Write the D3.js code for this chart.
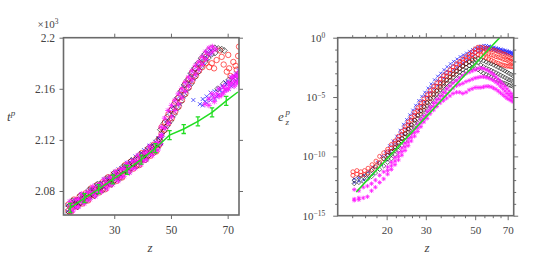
<!DOCTYPE html>
<html><head><meta charset="utf-8">
<script src="https://cdn.jsdelivr.net/npm/d3@7"></script>
<style>
body{margin:0;background:#fff}
svg{display:block}
svg text{font-family:"Liberation Serif","DejaVu Serif",serif !important;fill:#444}
</style>
</head><body><svg id="c" width="547" height="270" font-family="Liberation Serif"></svg>
<script>
// Rows are [z, value, value, ...]: several read-off values at (about) the same z.
// ---------------- data : left panel (z, t^p in units of 10^3) ----------------
const leftXTicks = [30, 50, 70];
const leftYTicks = [2.08, 2.12, 2.16, 2.2];
const leftYLabels = ["2.08", "2.12", "2.16", "2.2"];

const leftGreenZ = [13.8, 14.5, 19.5, 24.5, 29.5, 34.5, 39.5, 44.5, 49.5, 54.5, 59.5, 64.5, 69.5, 73.6];
const leftGreenT = [2.0655, 2.0668, 2.0745, 2.0815, 2.0890, 2.0965, 2.1045, 2.1135, 2.1237, 2.1285, 2.1345, 2.1415, 2.1505, 2.1575];
const leftGreenErr = [0, 0.0035, 0.0035, 0.0035, 0.0035, 0.0035, 0.0035, 0.0035, 0.0035, 0.0035, 0.0035, 0.0035, 0.0035, 0];

const leftBlue = [
[13.5,2.0690,2.0640],[14.5,2.0690,2.0635],[15.5,2.0720,2.0680],[16.5,2.0725,2.0670],[17.5,2.0735,2.0700],[18.5,2.0765,2.0705],[19.5,2.0770,2.0725],[20.5,2.0790,2.0740],[21.5,2.0810,2.0750],[22.5,2.0815,2.0770],[23.5,2.0845,2.0785],[24.5,2.0850,2.0800],[25.5,2.0860,2.0815],[26.5,2.0890,2.0830],[27.5,2.0895,2.0850],[28.5,2.0915,2.0865],[29.5,2.0935,2.0870],[30.5,2.0940,2.0895],[31.5,2.0970,2.0905],[32.5,2.0980,2.0925],[33.5,2.0990,2.0945],[34.5,2.1020,2.0955],[35.5,2.1025,2.0980],[36.5,2.1045,2.0990],[37.5,2.1070,2.1005],[38.5,2.1075,2.1030],[39.5,2.1095,2.1040],[40.5,2.1120,2.1055],[41.5,2.1125,2.1080],[42.5,2.1155,2.1090],[43.5,2.1165,2.1115],[44.5,2.1185,2.1135],[45.5,2.1215,2.1150],[46.5,2.1230,2.1175],
[47.2,2.1290,2.1240],[48.4,2.1350,2.1300],[49.6,2.1420,2.1340],[50.8,2.1460,2.1390],[52.0,2.1520,2.1440],[53.2,2.1570,2.1480],[54.4,2.1620,2.1540],[55.6,2.1660,2.1580],[56.8,2.1710,2.1640],[58.0,2.1750,2.1680],[59.2,2.1790,2.1720],[60.4,2.1820,2.1760],[61.6,2.1860,2.1800],[62.8,2.1890,2.1840],[64.0,2.1900,2.1870],
[57.9,2.1512],[60.2,2.1480],[61.2,2.1470,2.1520],[62.0,2.1500],[62.6,2.1540,2.1490],[63.2,2.1525],[64.0,2.1570,2.1510],[64.6,2.1548],[65.4,2.1580,2.1520],[66.1,2.1540],[66.8,2.1600,2.1555],[67.2,2.1590],[68.0,2.1620,2.1570],[68.5,2.1610],[69.2,2.1650,2.1590],[69.6,2.1632],[70.3,2.1660,2.1600],[70.8,2.1643],[71.3,2.1690,2.1620],[71.7,2.1672],[72.2,2.1700,2.1640],[72.6,2.1695],[73.0,2.1720,2.1660],[73.5,2.1710],[73.9,2.1745,2.1680]
];
const leftRed = [
[13.8,2.0694,2.0644],[14.8,2.0689,2.0639],[15.8,2.0733,2.0683],[16.8,2.0728,2.0678],[17.8,2.0757,2.0707],[18.8,2.0742,2.0702],[19.8,2.0781,2.0731],[20.8,2.0776,2.0726],[21.8,2.0820,2.0770],[22.8,2.0815,2.0765],[23.8,2.0844,2.0794],[24.8,2.0829,2.0789],[25.8,2.0868,2.0818],[26.8,2.0863,2.0813],[27.8,2.0907,2.0857],[28.8,2.0902,2.0852],[29.8,2.0933,2.0883],[30.8,2.0919,2.0879],[31.8,2.0960,2.0910],[32.8,2.0956,2.0906],[33.8,2.1002,2.0952],[34.8,2.0998,2.0948],[35.8,2.1029,2.0979],[36.8,2.1015,2.0975],[37.8,2.1056,2.1006],[38.8,2.1052,2.1002],[39.8,2.1098,2.1048],[40.8,2.1094,2.1044],[41.8,2.1127,2.1077],[42.8,2.1116,2.1076],[43.8,2.1160,2.1110],[44.8,2.1159,2.1109],[45.8,2.1208,2.1158],
[46.7,2.1300,2.1250],[47.9,2.1340,2.1280],[49.1,2.1400,2.1330],[50.3,2.1440,2.1370],[51.5,2.1500,2.1420],[52.7,2.1530,2.1460],[53.9,2.1590,2.1510],[55.1,2.1640,2.1560],[56.3,2.1680,2.1610],[57.5,2.1730,2.1660],[58.7,2.1760,2.1700],[59.9,2.1790,2.1740],[61.1,2.1830,2.1770],[62.3,2.1800,2.1850],
[63.5,2.1770],[64.4,2.1800],[65.2,2.1760],[66.1,2.1825],[67.3,2.1900],[67.9,2.1850],[68.6,2.1790],[69.7,2.1734],[70.2,2.1865],[70.5,2.1760],[71.0,2.1700],[72.0,2.1810],[72.8,2.1780],[73.7,2.1857],[74.0,2.1930],[73.2,2.1750]
];
const leftBlack = [
[14.1,2.0684,2.0634],[15.1,2.0723,2.0663],[16.1,2.0723,2.0693],[17.1,2.0727,2.0677],[18.1,2.0767,2.0707],[19.1,2.0766,2.0736],[20.1,2.0771,2.0721],[21.1,2.0810,2.0750],[22.1,2.0810,2.0780],[23.1,2.0814,2.0764],[24.1,2.0854,2.0794],[25.1,2.0853,2.0823],[26.1,2.0858,2.0808],[27.1,2.0897,2.0837],[28.1,2.0897,2.0867],[29.1,2.0902,2.0852],[30.1,2.0943,2.0883],[31.1,2.0944,2.0914],[32.1,2.0950,2.0900],[33.1,2.0991,2.0931],[34.1,2.0992,2.0962],[35.1,2.0998,2.0948],[36.1,2.1039,2.0979],[37.1,2.1040,2.1010],[38.1,2.1046,2.0996],[39.1,2.1087,2.1027],[40.1,2.1088,2.1058],[41.1,2.1094,2.1044],[42.1,2.1138,2.1078],[43.1,2.1142,2.1112],[44.1,2.1151,2.1101],[45.1,2.1195,2.1135],[46.1,2.1199,2.1169],
[46.3,2.1280,2.1220],[47.5,2.1330,2.1270],[48.7,2.1380,2.1310],[49.9,2.1430,2.1350],[51.1,2.1480,2.1400],[52.3,2.1530,2.1450],[53.5,2.1580,2.1500],[54.7,2.1630,2.1550],[55.9,2.1670,2.1600],[57.1,2.1720,2.1640],[58.3,2.1760,2.1690],[59.5,2.1800,2.1730],[60.7,2.1840,2.1770],[61.9,2.1870,2.1810],[63.1,2.1900,2.1840],[64.3,2.1920,2.1870],[65.5,2.1920,2.1880],[66.7,2.1915],[67.9,2.1910],[68.8,2.1900],
[66.5,2.1600],[68.6,2.1640],[70.4,2.1670],[72.1,2.1660],[73.4,2.1700]
];
const leftMagenta = [
[14.4,2.0718,2.0663],[15.4,2.0693,2.0643],[16.4,2.0732,2.0672],[17.4,2.0737,2.0677],[18.4,2.0776,2.0721],[19.4,2.0751,2.0701],[20.4,2.0790,2.0730],[21.4,2.0795,2.0735],[22.4,2.0834,2.0779],[23.4,2.0809,2.0759],[24.4,2.0848,2.0788],[25.4,2.0853,2.0793],[26.4,2.0892,2.0837],[27.4,2.0867,2.0817],[28.4,2.0906,2.0846],[29.4,2.0911,2.0851],[30.4,2.0952,2.0897],[31.4,2.0928,2.0878],[32.4,2.0969,2.0909],[33.4,2.0975,2.0915],[34.4,2.1016,2.0961],[35.4,2.0992,2.0942],[36.4,2.1033,2.0973],[37.4,2.1039,2.0979],[38.4,2.1080,2.1025],[39.4,2.1056,2.1006],[40.4,2.1097,2.1037],[41.4,2.1105,2.1045],[42.4,2.1149,2.1094],[43.4,2.1128,2.1078],[44.4,2.1172,2.1112],[45.4,2.1181,2.1121],[46.4,2.1225,2.1170],
[46.6,2.1300,2.1240],[47.8,2.1370,2.1290],[49.0,2.1430,2.1330],[50.2,2.1470,2.1380],[51.4,2.1510,2.1430],[52.6,2.1560,2.1480],[53.8,2.1600,2.1530],[55.0,2.1650,2.1580],[56.2,2.1690,2.1620],[57.4,2.1740,2.1670],[58.6,2.1780,2.1710],[59.8,2.1810,2.1750],[61.0,2.1850,2.1790],[62.2,2.1890,2.1830],[63.4,2.1920,2.1870],[64.6,2.1930,2.1890],[65.8,2.1910],
[62.0,2.1480],[63.4,2.1520,2.1470],[64.5,2.1560],[65.3,2.1530,2.1500],[66.2,2.1560],[67.0,2.1600,2.1540],[67.9,2.1551],[68.6,2.1620,2.1570],[69.0,2.1600],[69.7,2.1590],[70.3,2.1650,2.1600],[70.6,2.1625],[71.4,2.1643,2.1690],[71.8,2.1690],[72.3,2.1660,2.1620],[72.9,2.1710],[73.2,2.1695,2.1640],[73.6,2.1660],[74.0,2.1734,2.1700]
];

// ---------------- data : right panel (z, log10 e_z^p) ----------------
const rightXTicks = [14,16,18,20,22,24,26,28,30,35,40,45,50,55,60,65,70];
const rightXLabeled = [20, 30, 50, 70];
const rightYTicks = [0,-1,-2,-3,-4,-5,-6,-7,-8,-9,-10,-11,-12,-13,-14,-15];
const rightYLabeled = [0, -5, -10, -15];

const rightGreenZ = [14.6, 20, 30, 40, 50, 60, 64.4];
const rightGreenE = [-13, -10.24, -6.69, -4.17, -2.22, -0.62, 0];

const rightBlue = [
[14.3,-11.9,-12.2],[15.0,-11.8,-12.1],[15.8,-11.6,-12.0],[16.6,-11.3,-11.8],[17.4,-10.9,-11.5],[18.2,-10.5,-11.1],[19.0,-10.0,-10.7],[19.8,-9.6,-10.3,-9.9],[20.6,-9.1,-9.8,-9.5],[21.4,-8.7,-9.4,-9.0],[22.2,-8.3,-9.0,-8.6],[23.0,-7.8,-8.5,-8.1],[23.8,-7.3,-8.1,-7.6],[24.6,-6.9,-7.7,-7.2],[25.4,-6.5,-7.3,-6.8],[26.2,-6.1,-6.9,-6.4],[27.0,-5.7,-6.5,-6.0],[27.9,-5.3,-6.1,-5.6],[28.8,-4.95,-5.7,-5.3],[29.7,-4.6,-5.4,-4.9],[30.7,-4.25,-5.0,-4.6],[31.7,-3.9,-4.6,-4.2],[32.8,-3.55,-4.3,-3.9],[33.9,-3.25,-4.0,-3.6],[35.0,-3.0,-3.7,-3.3],[36.2,-2.7,-3.4,-3.0],[37.4,-2.45,-3.1,-2.8],[38.7,-2.2,-2.9,-2.5],[40.0,-2.0,-2.7,-2.3],[41.4,-1.8,-2.5,-2.1],[42.8,-1.6,-2.3,-1.9],[44.2,-1.45,-2.1,-1.7],[45.7,-1.3,-1.9,-1.55],[47.2,-1.15,-1.7,-1.4],[48.7,-1.0,-1.55,-1.25],[50.2,-0.88,-1.4,-1.1],[51.7,-0.78,-1.2,-0.95],[53.2,-0.7,-1.1,-0.9],[54.7,-0.65,-1.0,-0.85],[56.2,-0.66,-0.95,-0.8],[57.7,-0.7,-0.95,-0.82],[59.2,-0.74,-1.0,-0.86],[60.7,-0.8,-1.05,-0.9],[62.2,-0.85,-1.1,-0.95],[63.7,-0.9,-1.15,-1.0],[65.2,-0.95,-1.2,-1.05],[66.7,-1.0,-1.25,-1.1],[68.2,-1.05,-1.3,-1.15],[69.7,-1.1,-1.35,-1.2],[71.2,-1.15,-1.4,-1.25],[72.7,-1.2,-1.45,-1.3],[74.0,-1.25,-1.5,-1.35]
];
const rightRed = [
[14.1,-11.3,-11.6],[14.7,-11.2,-11.5],[15.3,-11.3,-11.6],[15.9,-11.2,-11.55],[16.5,-11.0,-11.4],[17.2,-10.7,-11.1],[17.9,-10.4,-10.8],[18.6,-10.0,-10.5],[19.4,-9.7,-10.2],[20.2,-9.4,-9.9,-9.6],[21.0,-9.0,-9.6,-9.3],[21.8,-8.7,-9.3,-8.9],[22.6,-8.3,-8.9,-8.55],[23.4,-7.9,-8.5,-8.15],[24.2,-7.5,-8.1,-7.75],[25.0,-7.1,-7.7,-7.35],[25.8,-6.7,-7.35,-6.95],[26.7,-6.3,-6.95,-6.55],[27.6,-5.9,-6.55,-6.15],[28.5,-5.5,-6.2,-5.8],[29.4,-5.15,-5.85,-5.45],[30.4,-4.8,-5.5,-5.1],[31.4,-4.45,-5.15,-4.75],[32.5,-4.1,-4.8,-4.4],[33.6,-3.8,-4.5,-4.1],[34.8,-3.5,-4.2,-3.8],[36.0,-3.2,-3.9,-3.5],[37.2,-2.95,-3.6,-3.25],[38.5,-2.7,-3.35,-3.0],[39.8,-2.45,-3.1,-2.75],[41.2,-2.2,-2.85,-2.5],[42.6,-2.0,-2.6,-2.25],[44.0,-1.8,-2.4,-2.05],[45.5,-1.6,-2.2,-1.85],[47.0,-1.4,-2.0,-1.65],[48.5,-1.2,-1.8,-1.45],[50.0,-0.95,-1.6,-1.25],[51.5,-0.8,-1.45,-1.1],[53.0,-0.8,-1.5,-1.1],[54.5,-0.85,-1.6,-1.2],[56.0,-0.9,-1.7,-1.3],[57.5,-0.95,-1.8,-1.35],[59.0,-1.0,-1.9,-1.45],[60.5,-1.05,-2.0,-1.5],[62.0,-1.1,-2.1,-1.6],[63.5,-1.2,-2.15,-1.65],[65.0,-1.25,-2.25,-1.7],[66.5,-1.35,-2.3,-1.8],[68.0,-1.4,-2.35,-1.85],[69.5,-1.5,-2.4,-1.9],[71.0,-1.6,-2.4,-2.0],[72.5,-1.7,-2.45,-2.05],[74.0,-1.75,-2.45,-2.1]
];
const rightBlack = [
[14.3,-12.0,-12.3],[15.0,-11.8,-12.2],[15.7,-11.7,-12.1],[16.4,-11.5,-11.9],[17.1,-11.2,-11.7],[17.8,-10.9,-11.4],[18.6,-10.6,-11.1],[19.4,-10.2,-10.8],[20.2,-9.9,-10.5,-10.2],[21.0,-9.6,-10.2,-9.85],[21.8,-9.2,-9.85,-9.5],[22.6,-8.85,-9.5,-9.15],[23.4,-8.5,-9.1,-8.75],[24.2,-8.1,-8.7,-8.35],[25.0,-7.7,-8.35,-7.95],[25.8,-7.35,-8.0,-7.6],[26.7,-6.95,-7.6,-7.2],[27.6,-6.55,-7.2,-6.8],[28.5,-6.15,-6.85,-6.45],[29.4,-5.8,-6.5,-6.1],[30.4,-5.45,-6.15,-5.75],[31.4,-5.1,-5.8,-5.4],[32.5,-4.75,-5.45,-5.05],[33.6,-4.45,-5.1,-4.75],[34.8,-4.1,-4.8,-4.4],[36.0,-3.8,-4.5,-4.1],[37.2,-3.55,-4.2,-3.85],[38.5,-3.3,-3.95,-3.6],[39.8,-3.05,-3.7,-3.35],[41.2,-2.8,-3.45,-3.1],[42.6,-2.6,-3.2,-2.9],[44.0,-2.4,-3.0,-2.7],[45.5,-2.2,-2.8,-2.5],[47.0,-2.05,-2.65,-2.35],[48.5,-1.9,-2.55,-2.2],[50.0,-1.8,-2.6,-2.15],[51.5,-1.75,-2.7,-2.1],[53.0,-1.85,-2.85,-2.3],[54.5,-1.95,-3.0,-2.45],[56.0,-2.05,-3.1,-2.55],[57.5,-2.15,-3.2,-2.65],[59.0,-2.2,-3.3,-2.75],[60.5,-2.3,-3.4,-2.85],[62.0,-2.4,-3.5,-2.95],[63.5,-2.5,-3.6,-3.05],[65.0,-2.6,-3.7,-3.15],[66.5,-2.7,-3.8,-3.25],[68.0,-2.8,-3.85,-3.35],[69.5,-2.9,-3.9,-3.45],[71.0,-3.0,-4.0,-3.55],[72.5,-3.1,-4.05,-3.6],[74.0,-3.2,-4.1,-3.7]
];
const rightMagenta = [
[14.3,-13.7,-12.8,-13.6],[15.0,-13.65,-12.9,-13.5],[15.7,-13.5,-12.6],[16.4,-13.4,-12.5],[17.1,-12.9,-12.3],[17.8,-12.6,-12.0],[18.6,-12.2,-11.6],[19.4,-11.9,-11.3],[20.2,-11.5,-10.9,-11.2],[21.0,-11.1,-10.5,-10.8],[21.8,-10.7,-10.1,-10.4],[22.6,-10.3,-9.7,-10.0],[23.4,-9.9,-9.3,-9.6],[24.2,-9.5,-8.9,-9.2],[25.0,-9.1,-8.5,-8.8],[25.8,-8.7,-8.1,-8.4],[26.7,-8.3,-7.7,-8.0],[27.6,-7.9,-7.3,-7.6],[28.5,-7.5,-6.9,-7.2],[29.4,-7.1,-6.6,-6.85],[30.4,-6.8,-6.2,-6.5],[31.4,-6.4,-5.85,-6.1],[32.5,-6.1,-5.5,-5.8],[33.6,-5.8,-5.2,-5.5],[34.8,-5.5,-4.9,-5.2],[36.0,-5.3,-4.6,-4.95],[37.2,-5.1,-4.3,-4.7],[38.5,-4.9,-4.05,-4.45],[39.8,-4.7,-3.8,-4.25],[41.2,-4.6,-3.6,-4.05],[42.6,-4.6,-3.4,-3.95],[44.0,-4.7,-3.2,-3.85],[45.5,-4.6,-3.0,-3.7],[47.0,-4.4,-2.9,-3.6],[48.5,-4.3,-2.8,-3.5],[50.0,-4.2,-2.7,-3.4],[51.5,-4.2,-2.6,-3.35],[53.0,-4.2,-2.55,-3.3],[54.5,-4.15,-2.6,-3.3],[56.0,-4.1,-2.7,-3.35],[57.5,-4.1,-2.8,-3.4],[59.0,-4.15,-2.95,-3.5],[60.5,-4.25,-3.1,-3.6],[62.0,-4.35,-3.3,-3.75],[63.5,-4.5,-3.5,-3.9],[65.0,-4.65,-3.7,-4.1],[66.5,-4.8,-3.9,-4.3],[68.0,-4.95,-4.1,-4.5],[69.5,-5.1,-4.3,-4.7],[71.0,-5.2,-4.5,-4.85],[72.5,-5.3,-4.7,-5.0],[74.0,-5.4,-4.9,-5.1]
];

// ---------------- drawing ----------------
const svg = d3.select('#c');
const AX = '#6a6a6a';
const FONT = '"Liberation Serif", "DejaVu Serif", serif';
const COL = {blue:'#1a1aff', red:'#ff1a1a', black:'#111', magenta:'#ff1aff', green:'#22dd22'};
const rows = r => r.flatMap(row => row.slice(1).map(v => [row[0], v]));

function markerPath(kind, s){
  if (kind==='x') return `M${-s},${-s}L${s},${s}M${-s},${s}L${s},${-s}`;
  if (kind==='d') return `M0,${-s}L${s},0L0,${s}L${-s},0Z`;
  if (kind==='o') return `M${s},0A${s},${s} 0 1,1 ${-s},0A${s},${s} 0 1,1 ${s},0Z`;
  const a = s*0.72;
  return `M${-s},0H${s}M0,${-s}V${s}M${-a},${-a}L${a},${a}M${-a},${a}L${a},${-a}`;
}
function scatter(g, data, x, y, kind, color, s, sw){
  g.append('g').selectAll('path').data(rows(data)).join('path')
    .attr('transform', d=>`translate(${x(d[0])},${y(d[1])})`)
    .attr('d', markerPath(kind, s))
    .attr('fill','none').attr('stroke', color).attr('stroke-width', sw);
}
function styleAxis(g){
  g.attr('font-family', FONT);
  g.select('.domain').remove();
  g.selectAll('.tick line').attr('stroke', AX).attr('stroke-width', 1);
  g.selectAll('.tick text').attr('fill', '#444').attr('font-family', FONT);
}

// ---- left panel
const L = {x0:63.5, x1:239, y0:37.7, y1:215};
const xL = d3.scaleLinear().domain([12.1, 74]).range([L.x0, L.x1]);
const yL = d3.scaleLinear().domain([2.0612, 2.2]).range([L.y1, L.y0]);
const gL = svg.append('g');
svg.append('clipPath').attr('id','clipL').append('rect')
  .attr('x',L.x0).attr('y',L.y0).attr('width',L.x1-L.x0).attr('height',L.y1-L.y0);

gL.append('g').attr('transform',`translate(0,${L.y1})`)
  .call(d3.axisBottom(xL).tickValues(leftXTicks).tickSize(4).tickPadding(7).tickFormat(d3.format('d')))
  .call(styleAxis).attr('font-size',11.5);
gL.append('g').attr('transform',`translate(0,${L.y0})`)
  .call(d3.axisTop(xL).tickValues(leftXTicks).tickSize(4).tickFormat('')).call(styleAxis);
gL.append('g').attr('transform',`translate(${L.x0},0)`)
  .call(d3.axisLeft(yL).tickValues(leftYTicks).tickSize(4).tickPadding(4.5).tickFormat((d,i)=>leftYLabels[i]))
  .call(styleAxis).attr('font-size',11.5);
gL.append('g').attr('transform',`translate(${L.x1},0)`)
  .call(d3.axisRight(yL).tickValues(leftYTicks).tickSize(4).tickFormat('')).call(styleAxis);

const dL = gL.append('g').attr('clip-path','url(#clipL)');
scatter(dL, leftBlue, xL, yL, 'x', COL.blue, 2.0, 0.7);
scatter(dL, leftRed, xL, yL, 'o', COL.red, 2.7, 0.7);
scatter(dL, leftBlack, xL, yL, 'd', COL.black, 3.0, 0.6);
scatter(dL, leftMagenta, xL, yL, '*', COL.magenta, 2.9, 0.8);

const gLine = leftGreenZ.map((z,i)=>[z, leftGreenT[i], leftGreenErr[i]]);
dL.append('path').datum(gLine)
  .attr('d', d3.line().x(d=>xL(d[0])).y(d=>yL(d[1])))
  .attr('fill','none').attr('stroke',COL.green).attr('stroke-width',1.5);
const eb = dL.append('g').selectAll('g').data(gLine.filter(d=>d[2]>0)).join('g')
  .attr('stroke',COL.green).attr('stroke-width',1.3);
eb.append('line').attr('x1',d=>xL(d[0])).attr('x2',d=>xL(d[0]))
  .attr('y1',d=>yL(d[1]-d[2])).attr('y2',d=>yL(d[1]+d[2]));
eb.append('line').attr('x1',d=>xL(d[0])-2.2).attr('x2',d=>xL(d[0])+2.2)
  .attr('y1',d=>yL(d[1]-d[2])).attr('y2',d=>yL(d[1]-d[2]));
eb.append('line').attr('x1',d=>xL(d[0])-2.2).attr('x2',d=>xL(d[0])+2.2)
  .attr('y1',d=>yL(d[1]+d[2])).attr('y2',d=>yL(d[1]+d[2]));

gL.append('rect').attr('x',L.x0).attr('y',L.y0).attr('width',L.x1-L.x0).attr('height',L.y1-L.y0)
  .attr('fill','none').attr('stroke',AX).attr('stroke-width',1.6);

const tx = svg.append('text').attr('x',37.5).attr('y',28).attr('font-size',11).attr('font-family',FONT);
tx.append('tspan').text('×10');
tx.append('tspan').attr('dy',-4.5).attr('font-size',7.5).text('3');
const tl = svg.append('text').attr('x',7).attr('y',121).attr('font-size',13).attr('font-style','italic').attr('font-family',FONT);
tl.append('tspan').text('t');
tl.append('tspan').attr('dy',-5).attr('font-size',9).text('p');
svg.append('text').attr('x',150).attr('y',251.5).attr('font-size',13).attr('font-style','italic').attr('font-family',FONT).attr('text-anchor','middle').text('z');

// ---- right panel
const R = {x0:337.7, x1:513.7, y0:37.7, y1:215.7};
const xR = d3.scaleLog().domain([12.05, 74.5]).range([R.x0, R.x1]);
const yR = d3.scaleLinear().domain([-15, 0]).range([R.y1, R.y0]);
const gR = svg.append('g');
svg.append('clipPath').attr('id','clipR').append('rect')
  .attr('x',R.x0).attr('y',R.y0).attr('width',R.x1-R.x0).attr('height',R.y1-R.y0);

function majorLen(g, majors, big, small, dir){
  g.selectAll('.tick line').each(function(d){
    const len = majors.includes(d) ? big : small;
    d3.select(this).attr(dir[0], dir[1]*len);
  });
}
const bx = gR.append('g').attr('transform',`translate(0,${R.y1})`)
  .call(d3.axisBottom(xR).tickValues(rightXTicks).tickSize(4).tickPadding(6.2).tickFormat(d=>rightXLabeled.includes(d)?String(d):''))
  .call(styleAxis).attr('font-size',11);
majorLen(bx, rightXLabeled, 4.5, 2.5, ['y2',1]);
const tX = gR.append('g').attr('transform',`translate(0,${R.y0})`)
  .call(d3.axisTop(xR).tickValues(rightXTicks).tickSize(4).tickFormat('')).call(styleAxis);
majorLen(tX, rightXLabeled, 4.5, 2.5, ['y2',-1]);
const ly = gR.append('g').attr('transform',`translate(${R.x0},0)`)
  .call(d3.axisLeft(yR).tickValues(rightYTicks).tickSize(4).tickPadding(8.5).tickFormat(d=>rightYLabeled.includes(d)?'x':''))
  .call(styleAxis).attr('font-size',11);
majorLen(ly, rightYLabeled, 4.5, 2.5, ['x2',-1]);
ly.selectAll('.tick text').each(function(d){
  if (!rightYLabeled.includes(d)) return;
  const t = d3.select(this).text(null);
  t.append('tspan').text('10');
  t.append('tspan').attr('dy','-0.45em').attr('font-size',7.5).text(d===0?'0':'\u2212'+(-d));
});
const ry = gR.append('g').attr('transform',`translate(${R.x1},0)`)
  .call(d3.axisRight(yR).tickValues(rightYTicks).tickSize(4).tickFormat('')).call(styleAxis);
majorLen(ry, rightYLabeled, 4.5, 2.5, ['x2',1]);

const dR = gR.append('g').attr('clip-path','url(#clipR)');
scatter(dR, rightBlue, xR, yR, 'x', COL.blue, 1.5, 0.7);
scatter(dR, rightRed, xR, yR, 'o', COL.red, 2.0, 0.7);
scatter(dR, rightBlack, xR, yR, 'd', COL.black, 2.2, 0.6);
scatter(dR, rightMagenta, xR, yR, '*', COL.magenta, 2.2, 0.8);
dR.append('path').datum(rightGreenZ.map((z,i)=>[z, rightGreenE[i]]))
  .attr('d', d3.line().x(d=>xR(d[0])).y(d=>yR(d[1])))
  .attr('fill','none').attr('stroke',COL.green).attr('stroke-width',1.6);

gR.append('rect').attr('x',R.x0).attr('y',R.y0).attr('width',R.x1-R.x0).attr('height',R.y1-R.y0)
  .attr('fill','none').attr('stroke',AX).attr('stroke-width',1.6);

svg.append('text').attr('x',278).attr('y',121).attr('font-size',13).attr('font-style','italic').attr('font-family',FONT).text('e');
svg.append('text').attr('x',285.5).attr('y',115).attr('font-size',9).attr('font-style','italic').attr('font-family',FONT).text('p');
svg.append('text').attr('x',285.5).attr('y',125).attr('font-size',9).attr('font-style','italic').attr('font-family',FONT).text('z');
svg.append('text').attr('x',427).attr('y',251.5).attr('font-size',13).attr('font-style','italic').attr('font-family',FONT).attr('text-anchor','middle').text('z');
</script></body></html>
